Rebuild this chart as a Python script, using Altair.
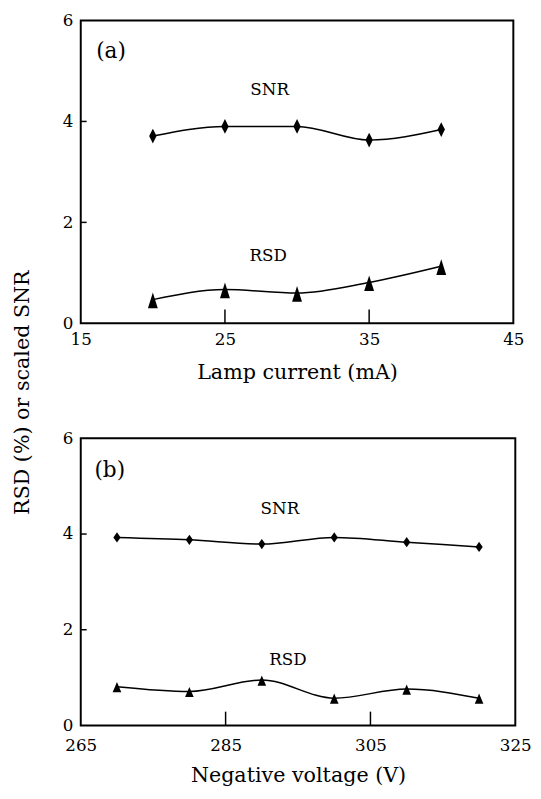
import altair as alt
import pandas as pd

# ---- data ----
a_current = [20, 25, 30, 35, 40]
a_snr = [3.71, 3.90, 3.90, 3.63, 3.84]
a_rsd = [0.47, 0.67, 0.60, 0.81, 1.13]

b_voltage = [270, 280, 290, 300, 310, 320]
b_snr = [3.93, 3.88, 3.79, 3.93, 3.83, 3.73]
b_rsd = [0.81, 0.71, 0.95, 0.57, 0.76, 0.57]

a_xticks = [15, 25, 35, 45]
b_xticks = [265, 285, 305, 325]
y_ticks = [0, 2, 4, 6]
a_inner_xticks = [25, 35]
b_inner_xticks = [285, 305]
inner_yticks = [2, 4]

a_labels = ["(a)", "SNR", "RSD"]
a_label_x = [17.1, 28.1, 28.0]
a_label_y = [5.40, 4.62, 1.33]
b_labels = ["(b)", "SNR", "RSD"]
b_label_x = [269.0, 292.5, 293.6]
b_label_y = [5.34, 4.53, 1.37]

FONT = "DejaVu Serif"
DIAMOND = "M0,-1L0.5,0L0,1L-0.5,0Z"
TRIANGLE = "M0,-0.85L0.6,1.05L-0.6,1.05Z"


def panel(xs, snr, rsd, xdom, xvals, inner_x, labels, lx, ly, width, height,
          xtitle, ytitle, title_pad_x, label_pad_x, dsize, tsize, tri_shape, dia_shape,
          ytitle_y=None):
    df = pd.DataFrame({"x": xs, "snr": snr, "rsd": rsd})
    ann = pd.DataFrame({"label": labels, "x": lx, "y": ly})
    xt = pd.DataFrame({"x": inner_x})
    yt = pd.DataFrame({"y": inner_yticks})

    xscale = alt.Scale(domain=xdom, nice=False, zero=False)
    yscale = alt.Scale(domain=[0, 6], nice=False)

    xaxis = alt.Axis(values=xvals, ticks=False, domain=False, grid=False,
                     labelFlush=False, labelPadding=label_pad_x, labelFont=FONT,
                     labelFontSize=17, labelColor="black", titleFont=FONT,
                     titleFontSize=21, titleFontWeight="normal", titleColor="black",
                     titlePadding=title_pad_x, format="d")
    if ytitle_y is not None:
        yaxis = alt.Axis(values=y_ticks, ticks=False, domain=False, grid=False,
                         labelPadding=8, labelFont=FONT, labelFontSize=17,
                         labelColor="black", titleFont=FONT, titleFontSize=21,
                         titleFontWeight="normal", titleColor="black",
                         titlePadding=30, titleY=ytitle_y, format="d")
    else:
        yaxis = alt.Axis(values=y_ticks, ticks=False, domain=False, grid=False,
                         labelPadding=8, labelFont=FONT, labelFontSize=17,
                         labelColor="black", format="d")

    x = alt.X("x:Q", scale=xscale, axis=xaxis, title=xtitle)
    base = alt.Chart(df)
    line_snr = base.mark_line(color="black", strokeWidth=1.5, interpolate="monotone").encode(
        x=x, y=alt.Y("snr:Q", scale=yscale, axis=yaxis, title=ytitle if ytitle else None))
    line_rsd = base.mark_line(color="black", strokeWidth=1.5, interpolate="monotone").encode(
        x="x:Q", y="rsd:Q")
    pt_snr = base.mark_point(shape=dia_shape, filled=True, color="black", opacity=1,
                             size=dsize).encode(x="x:Q", y="snr:Q")
    pt_rsd = base.mark_point(shape=tri_shape, filled=True, color="black", opacity=1,
                             size=tsize).encode(x="x:Q", y="rsd:Q")
    xtick = alt.Chart(xt).mark_rule(color="black", strokeWidth=1.5).encode(
        x="x:Q", y=alt.value(height), y2=alt.value(height - 14))
    ytick = alt.Chart(yt).mark_rule(color="black", strokeWidth=1.5).encode(
        y="y:Q", x=alt.value(0), x2=alt.value(6))
    text = alt.Chart(ann).mark_text(font=FONT, color="black", baseline="middle",
                                    align="center").encode(
        x="x:Q", y="y:Q", text="label:N",
        size=alt.condition(alt.datum.label == labels[0], alt.value(22), alt.value(17)))
    return alt.layer(line_snr, line_rsd, pt_snr, pt_rsd, xtick, ytick, text).properties(
        width=width, height=height)


pa = panel(a_current, a_snr, a_rsd, [15, 45], a_xticks, a_inner_xticks,
           a_labels, a_label_x, a_label_y, 440, 308, "Lamp current (mA)",
           "RSD (%) or scaled SNR", 14, 9, 225, 280, TRIANGLE, DIAMOND, ytitle_y=378)
pb = panel(b_voltage, b_snr, b_rsd, [265, 325], b_xticks, b_inner_xticks,
           b_labels, b_label_x, b_label_y, 442, 292, "Negative voltage (V)",
           None, 12, 12, 110, 120, "M0,-0.85L0.8,1.05L-0.8,1.05Z", "M0,-1L0.7,0L0,1L-0.7,0Z")

chart = alt.vconcat(pa, pb, spacing=117, bounds="flush").properties(
    padding={"left": 3, "top": -4, "right": 0, "bottom": 0}
).configure(background="white").configure_view(stroke="black", strokeWidth=2)

chart.save("out.html", embed_options={"renderer": "svg", "actions": False})
